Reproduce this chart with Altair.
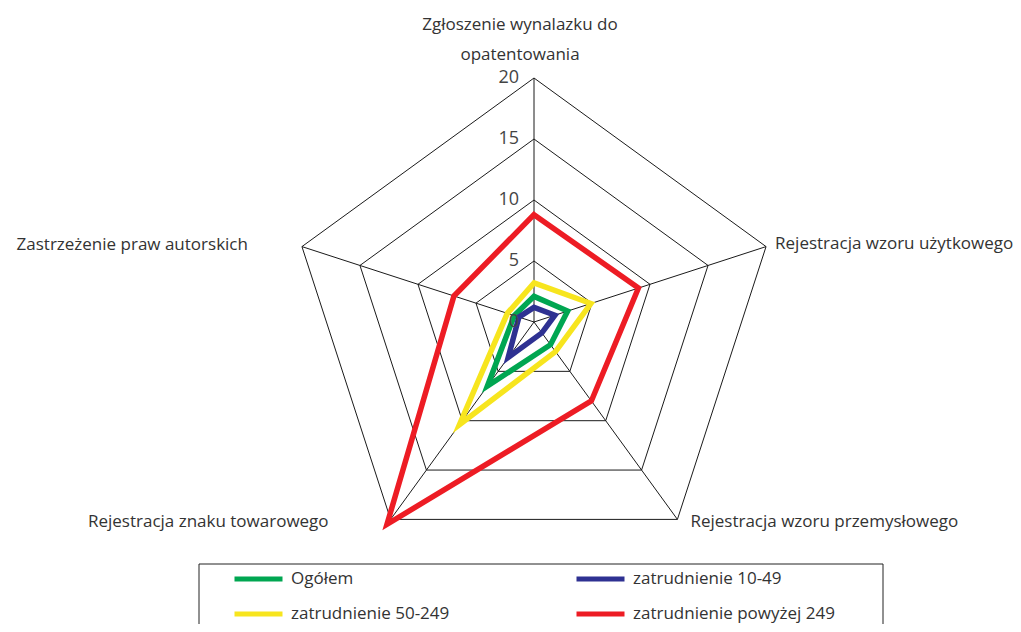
import math
import altair as alt
import pandas as pd

# ---- data ----
categories = [
    "Zgłoszenie wynalazku do\nopatentowania",
    "Rejestracja wzoru użytkowego",
    "Rejestracja wzoru przemysłowego",
    "Rejestracja znaku towarowego",
    "Zastrzeżenie praw autorskich",
]
series = ["Ogółem", "zatrudnienie 10-49", "zatrudnienie 50-249", "zatrudnienie powyżej 249"]
ogolem = [2.1, 2.9, 2.3, 6.5, 1.7]
z10_49 = [1.2, 1.8, 1.1, 3.6, 1.3]
z50_249 = [3.2, 4.9, 3.0, 10.4, 2.3]
z250 = [8.8, 9.0, 8.0, 20.5, 6.9]
ring_values = [5, 10, 15, 20]
tick_labels = [0, 5, 10, 15, 20]
colors = ["#00A651", "#2E3192", "#F7E51E", "#ED1C24"]

RMAX = 20
N = len(categories)
FONT = "Open Sans"


def pos(i, r):
    a = math.pi / 2 - i * 2 * math.pi / N
    return r * math.cos(a), r * math.sin(a)


values = [ogolem, z10_49, z50_249, z250]
rows = []
for s, vals in zip(series, values):
    for i, v in enumerate(vals):
        x, y = pos(i, v)
        rows.append({"series": s, "ord": i, "x": x, "y": y, "value": v})
df = pd.DataFrame(rows)

grid_rows = []
for r in ring_values:
    for i in range(N):
        x, y = pos(i, r)
        grid_rows.append({"ring": r, "ord": i, "x": x, "y": y})
grid_df = pd.DataFrame(grid_rows)

spoke_rows = []
for i in range(N):
    for k, r in enumerate([0, RMAX]):
        x, y = pos(i, r)
        spoke_rows.append({"axis": i, "ord": k, "x": x, "y": y})
spoke_df = pd.DataFrame(spoke_rows)

tick_df = pd.DataFrame({"t": tick_labels, "x": [0] * len(tick_labels), "y": tick_labels})

# ---- scales (12.2 px per unit) ----
W, H = 1005, 616
PX = 12.2
cx, cy = 526, 314
xs = alt.Scale(domain=[-cx / PX, (W - cx) / PX], nice=False, zero=False)
ys = alt.Scale(domain=[-(H - cy) / PX, cy / PX], nice=False, zero=False)

X = lambda: alt.X("x:Q", scale=xs, axis=None)
Y = lambda: alt.Y("y:Q", scale=ys, axis=None)

grid = alt.Chart(grid_df).mark_line(
    color="#1a1a1a", strokeWidth=1, interpolate="linear-closed"
).encode(x=X(), y=Y(), detail="ring:N", order="ord:Q")

spokes = alt.Chart(spoke_df).mark_line(color="#1a1a1a", strokeWidth=1).encode(
    x=X(), y=Y(), detail="axis:N", order="ord:Q"
)

lines = alt.Chart(df).mark_line(
    strokeWidth=5.5, interpolate="linear-closed", strokeJoin="miter"
).encode(
    x=X(),
    y=Y(),
    order="ord:Q",
    color=alt.Color(
        "series:N",
        scale=alt.Scale(domain=series, range=colors),
        sort=series,
        legend=alt.Legend(
            title=None,
            orient="none",
            direction="horizontal",
            legendX=224,
            legendY=561,
            columns=2,
            columnPadding=124,
            rowPadding=15,
            clipHeight=20,
            symbolType="stroke",
            symbolSize=2304,
            symbolStrokeWidth=5,
            labelFont=FONT,
            labelFontSize=17,
            labelColor="#333333",
            labelOffset=6,
            labelLimit=400,
        ),
    ),
)

ticks = alt.Chart(tick_df).mark_text(
    align="right", baseline="middle", dx=-15, font=FONT, fontSize=18, color="#444444"
).encode(x=X(), y=Y(), text="t:Q")

# category labels, placed at the outer vertices
label_style = [
    dict(align="center", baseline="alphabetic", dx=-14, dy=-48),
    dict(align="left", baseline="alphabetic", dx=9, dy=2),
    dict(align="left", baseline="alphabetic", dx=13, dy=8),
    dict(align="right", baseline="alphabetic", dx=-62, dy=8),
    dict(align="right", baseline="alphabetic", dx=-54, dy=3),
]
label_layers = []
for i, (cat, st) in enumerate(zip(categories, label_style)):
    x, y = pos(i, RMAX)
    ldf = pd.DataFrame({"label": [cat], "x": [x], "y": [y]})
    label_layers.append(
        alt.Chart(ldf).mark_text(
            font=FONT, fontSize=17, color="#333333", lineBreak="\n", lineHeight=30, **st
        ).encode(x=X(), y=Y(), text="label:N")
    )

legend_box = alt.Chart(pd.DataFrame({"a": [0]})).mark_rect(
    fillOpacity=0, stroke="#222222", strokeWidth=1
).encode(x=alt.value(191), x2=alt.value(875), y=alt.value(556), y2=alt.value(660))

chart = alt.layer(grid, spokes, lines, ticks, *label_layers, legend_box).properties(
    width=W, height=H, padding=0, autosize="none"
).configure_view(stroke=None)

chart.save("out.html", embed_options={"renderer": "svg", "actions": False})
